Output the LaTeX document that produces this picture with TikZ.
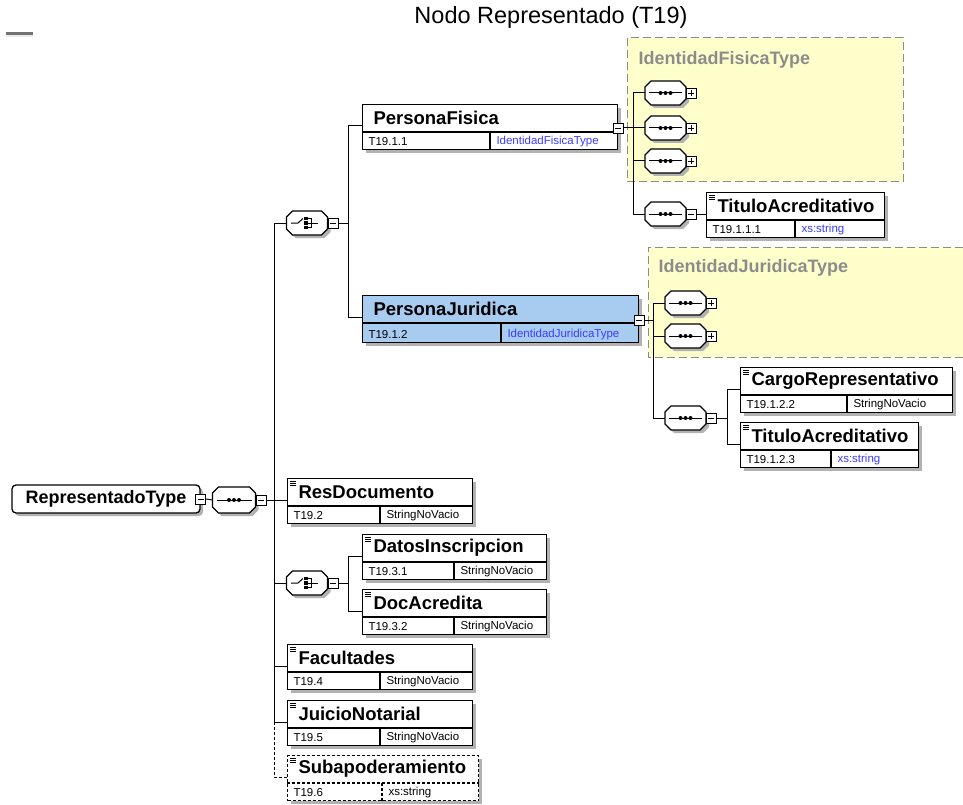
\documentclass[tikz,border=0pt]{standalone}
\usepackage{fontspec}
\setmainfont{Liberation Sans}
\usetikzlibrary{shadows}

\definecolor{xsdyellow}{RGB}{255,255,204}
\definecolor{xsdblue}{RGB}{60,60,255}
\definecolor{xsdsel}{RGB}{168,203,240}
\definecolor{xsdgray}{RGB}{140,140,140}

% element box: name, extra style, x, y (top left), width, divider, title, id, type
\newcommand{\xsdelem}[9]{%
  \node[elembox, #2, minimum width=#5pt, anchor=north west] (#1) at (#3,#4) {};
  \draw[boxline, #2] ([yshift=-28pt]#1.north west) -- ([yshift=-28pt]#1.north east);
  \draw[boxline, #2] ([xshift=#6pt, yshift=-28pt]#1.north west) -- ([xshift=#6pt]#1.south west);
  \node[titletext, anchor=west] (#1-title) at ([xshift=11pt, yshift=-14pt]#1.north west) {#7};
  \node[smalltext, anchor=west] (#1-id) at ([xshift=6pt, yshift=8.5pt]#1.south west) {#8};
  \node[smalltext, anchor=west] (#1-type) at ([xshift=#6pt+6pt, yshift=8.5pt]#1.south west) {#9};
  \coordinate (#1-in) at ([yshift=-22pt]#1.north west);
}
% little "simple content" mark in the top left corner
\newcommand{\xsdsimple}[1]{%
  \foreach \k in {3,5,7}
    \draw[line width=0.7pt] ([shift={(3pt,-\k pt)}]#1.north west) -- ++(6pt,0pt);
}
% octagon round a node, with its shadow
\newcommand{\xsdoctpts}[1]{([xshift=6pt]#1.north west) -- ([xshift=-6pt]#1.north east)
  -- ([yshift=-6pt]#1.north east) -- ([yshift=6pt]#1.south east)
  -- ([xshift=-6pt]#1.south east) -- ([xshift=6pt]#1.south west)
  -- ([yshift=6pt]#1.south west) -- ([yshift=-6pt]#1.north west) -- cycle}
\newcommand{\xsdoct}[1]{%
  \fill[black!30, transform canvas={shift={(3pt,-3pt)}}] \xsdoctpts{#1};
  \filldraw[fill=white, line width=1.1pt] \xsdoctpts{#1};
}
% sequence: line with three dots
\newcommand{\xsdseq}[1]{%
  \xsdoct{#1}
  \draw[line width=1pt] ([xshift=4pt]#1.west) -- ([xshift=-4pt]#1.east);
  \foreach \d in {-5,0,5}
    \fill[black] ([xshift=\d pt]#1.center) circle (2pt);
}
% choice: switch with three small squares
\newcommand{\xsdchoice}[1]{%
  \xsdoct{#1}
  \draw[line width=1pt] ([xshift=-16pt]#1.center) -- ([xshift=-9pt]#1.center)
    -- ([shift={(-4pt,4.5pt)}]#1.center);
  \foreach \d in {-4.5,0,4.5}
    \fill[black] ([shift={(-1pt,\d pt)}]#1.center) +(-1.6pt,-1.6pt) rectangle +(1.6pt,1.6pt);
  \draw[line width=1pt] ([shift={(0.5pt,4.5pt)}]#1.center) -- ([shift={(4.5pt,4.5pt)}]#1.center)
    -- ([shift={(4.5pt,-4.5pt)}]#1.center) -- ([shift={(0.5pt,-4.5pt)}]#1.center);
  \draw[line width=1pt] ([xshift=0.5pt]#1.center) -- ([xshift=11pt]#1.center);
}

\begin{document}
\begin{tikzpicture}[
  % one unit is one pixel of the reference, rows grow downward
  x=1pt, y=-1pt,
  line width=1pt,
  boxline/.style={line width=1.3pt},
  xsdshadow/.style={drop shadow={shadow xshift=3pt, shadow yshift=-3pt, fill=black!30, opacity=1}},
  elembox/.style={draw, boxline, fill=white, minimum height=45pt, inner sep=0pt, xsdshadow},
  rootbox/.style={draw, boxline, fill=white, rounded corners=4pt, minimum width=188pt,
    minimum height=28pt, inner sep=0pt, font=\fontsize{18}{22}\selectfont\bfseries, xsdshadow},
  titletext/.style={font=\fontsize{18.5}{22}\selectfont\bfseries, inner sep=0pt},
  smalltext/.style={font=\fontsize{11.5}{13}\selectfont, inner sep=0pt},
  typetitle/.style={font=\fontsize{18}{22}\selectfont\bfseries, text=xsdgray, inner sep=0pt},
  typeline/.style={draw=xsdgray, line width=1pt, dash pattern=on 8pt off 4pt},
  octnode/.style={rectangle, minimum width=40pt, minimum height=23pt, inner sep=0pt},
  minusbox/.style={draw, fill=white, line width=0.9pt, minimum size=10pt, inner sep=0pt,
    path picture={\draw[line width=0.9pt] ([xshift=2pt]path picture bounding box.west)
      -- ([xshift=-2pt]path picture bounding box.east);}},
  plusbox/.style={draw, fill=white, line width=0.9pt, minimum size=10pt, inner sep=0pt,
    path picture={\draw[line width=0.9pt] ([xshift=2pt]path picture bounding box.west)
      -- ([xshift=-2pt]path picture bounding box.east);
      \draw[line width=0.9pt] ([yshift=2pt]path picture bounding box.south)
      -- ([yshift=-2pt]path picture bounding box.north);}}
]
\useasboundingbox (0,0) rectangle (963,805);

% Title and the small mark in the corner
\node[font=\fontsize{23.5}{28}\selectfont, inner sep=0pt] (title) at (551,17) {Nodo Representado (T19)};
\fill[black!55] (6,32) rectangle (33,35);
\fill[black!8] (6,35) rectangle (33,37);

% 1) Yellow type areas (drawn first, they sit behind)
\fill[xsdyellow] (627,38) rectangle (903,182);
\draw[typeline] (627,38) rectangle (903,182);
\node[typetitle, anchor=west] (iftype) at (638,60) {IdentidadFisicaType};
\fill[xsdyellow] (648,247) rectangle (963,357);
\draw[typeline] (963,247) -- (648,247) -- (648,357) -- (963,357);
\node[typetitle, anchor=west] (ijtype) at (658,268) {IdentidadJuridicaType};

% 2) Root type and its sequence
\node[rootbox] (rt) at (106,499) {RepresentadoType};
\node[minusbox] (rtm) at (rt.east) {};
\node[octnode, minimum width=42pt, minimum height=25pt] (sq) at (234,500) {};
\xsdseq{sq}
\node[minusbox, anchor=west] (sqm) at (sq.east) {};
\draw (rtm.east) -- (sq.west);

% 3) First choice: PersonaFisica / PersonaJuridica
\node[octnode] (c1) at (307,223) {};
\xsdchoice{c1}
\node[minusbox, anchor=west] (c1m) at (c1.east) {};
\xsdelem{pf}{}{362}{104}{255}{128}{PersonaFisica}{T19.1.1}{\color{xsdblue}IdentidadFisicaType}
\xsdelem{pj}{fill=xsdsel, minimum height=47pt}{362}{295}{276}{139}{PersonaJuridica}{T19.1.2}{\color{xsdblue}IdentidadJuridicaType}
\node[minusbox] (pfm) at ([yshift=-24pt]pf.north east) {};
\node[minusbox] (pjm) at ([yshift=-25pt]pj.north east) {};
\coordinate (bus1) at (348,0);
\draw (c1m.east) -- (c1m.east -| bus1);
\draw (pf-in) -- (pf-in -| bus1) -- (pj-in -| bus1) -- (pj-in);

% 4) Content of IdentidadFisicaType
\foreach \n/\yy in {fs1/93, fs2/128, fs3/161} {
  \node[octnode] (\n) at (665.5,\yy) {};
  \xsdseq{\n}
  \node[plusbox, anchor=west] (\n p) at (\n.east) {};
}
\node[octnode] (fs4) at (665.5,214) {};
\xsdseq{fs4}
\node[minusbox, anchor=west] (fs4m) at (fs4.east) {};
\xsdelem{taf}{}{706}{192}{178}{89}{TituloAcreditativo}{T19.1.1.1}{\color{xsdblue}xs:string}
\xsdsimple{taf}
\coordinate (fbus) at (633,0);
\draw (pfm.east) -- (pfm.east -| fbus);
\draw (fs1.west) -- (fs1.west -| fbus) -- (fs4.west -| fbus) -- (fs4.west);
\draw (fs2.west) -- (fs2.west -| fbus);
\draw (fs3.west) -- (fs3.west -| fbus);
\draw (fs4m.east) -- (taf-in);

% 5) Content of IdentidadJuridicaType
\node[octnode] (js1) at (685.5,303) {};
\xsdseq{js1}
\node[plusbox, anchor=west] (js1p) at (js1.east) {};
\node[octnode] (js2) at (685.5,336) {};
\xsdseq{js2}
\node[plusbox, anchor=west] (js2p) at (js2.east) {};
\node[octnode] (js3) at (685.5,418) {};
\xsdseq{js3}
\node[minusbox, anchor=west] (js3m) at (js3.east) {};
\xsdelem{cr}{}{740}{367}{212}{107}{CargoRepresentativo}{T19.1.2.2}{StringNoVacio}
\xsdsimple{cr}
\xsdelem{taj}{}{740}{422}{178}{91}{TituloAcreditativo}{T19.1.2.3}{\color{xsdblue}xs:string}
\xsdsimple{taj}
\coordinate (jbus) at (653,0);
\coordinate (jbus2) at (727,0);
\draw (pjm.east) -- (pjm.east -| jbus);
\draw (js1.west) -- (js1.west -| jbus) -- (js3.west -| jbus) -- (js3.west);
\draw (js2.west) -- (js2.west -| jbus);
\draw (js3m.east) -- (js3m.east -| jbus2);
\draw (cr-in) -- (cr-in -| jbus2) -- (taj-in -| jbus2) -- (taj-in);

% 6) Remaining children of the root sequence
\xsdelem{rd}{}{287}{478}{185}{93}{ResDocumento}{T19.2}{StringNoVacio}
\xsdsimple{rd}
\node[octnode] (c2) at (307,583) {};
\xsdchoice{c2}
\node[minusbox, anchor=west] (c2m) at (c2.east) {};
\xsdelem{di}{}{362}{534}{184}{92}{DatosInscripcion}{T19.3.1}{StringNoVacio}
\xsdsimple{di}
\xsdelem{da}{}{362}{589}{184}{92}{DocAcredita}{T19.3.2}{StringNoVacio}
\xsdsimple{da}
\coordinate (bus2) at (348,0);
\draw (c2m.east) -- (c2m.east -| bus2);
\draw (di-in) -- (di-in -| bus2) -- (da-in -| bus2) -- (da-in);
\xsdelem{fa}{}{287}{644}{185}{93}{Facultades}{T19.4}{StringNoVacio}
\xsdsimple{fa}
\xsdelem{jn}{}{287}{700}{185}{93}{JuicioNotarial}{T19.5}{StringNoVacio}
\xsdsimple{jn}
% optional element: dashed
\xsdelem{sa}{dash pattern=on 3pt off 2pt}{287}{755}{191}{95}{Subapoderamiento}{T19.6}{xs:string}
\xsdsimple{sa}

% 7) The trunk of the root sequence
\coordinate (trunk) at (274,0);
\draw (sqm.east) -- (sqm.east -| rd.west);
\draw (c1.west) -- (c1.west -| trunk) -- (jn-in -| trunk) -- (jn-in);
\draw (c2.west) -- (c2.west -| trunk);
\draw (fa-in -| trunk) -- (fa-in);
\draw[dash pattern=on 3pt off 2pt] (jn-in -| trunk) -- (sa-in -| trunk) -- (sa-in);

\end{tikzpicture}
\end{document}
